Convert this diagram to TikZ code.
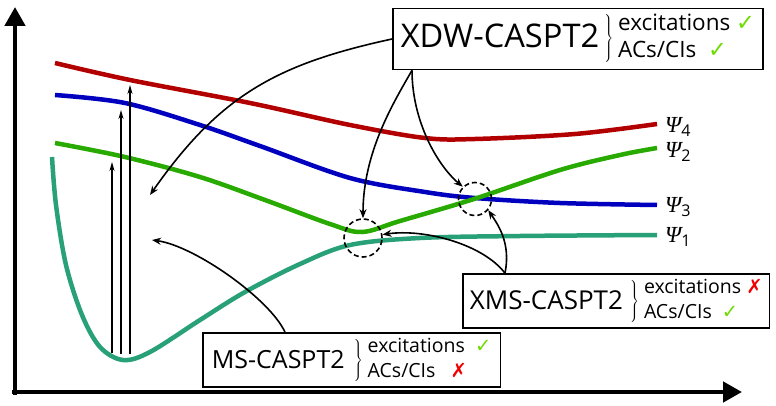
\documentclass[tikz,border=0pt]{standalone}
\usepackage{fontspec}
\setmainfont{Open Sans}
\newfontfamily\symf{DejaVu Sans}
\newfontfamily\psif{Liberation Serif}
\usetikzlibrary{arrows.meta}
\definecolor{cRed}{RGB}{178,0,0}
\definecolor{cBlue}{RGB}{0,0,190}
\definecolor{cGreen}{RGB}{40,170,0}
\definecolor{cTeal}{RGB}{40,160,120}
\definecolor{cCheck}{RGB}{110,220,0}
\definecolor{cCross}{RGB}{240,0,0}
\newcommand{\chk}{{\symf\color{cCheck}✓}}
\newcommand{\crs}{{\symf\color{cCross}✗}}
\newcommand{\bracepart}[1]{$\left.\rule[-#1]{0pt}{2.0\dimexpr#1\relax}\right\}$}
\begin{document}
\begin{tikzpicture}[x=1pt,y=-1pt,
  curve/.style={line width=4.5pt},
  axisline/.style={line width=4.5pt,-{Triangle[length=19pt,width=20pt]}},
  exc/.style={line width=1.3pt,-{Stealth[length=9pt,width=5pt]}},
  conn/.style={line width=1.6pt,-{Stealth[length=9pt,width=7pt]}},
  crossing/.style={circle,draw,line width=1.6pt,dash pattern=on 5pt off 3pt,inner sep=0pt},
  methodbox/.style={draw,line width=1.6pt,fill=white,inner xsep=8pt,inner ysep=2pt,anchor=west},
  lbl/.style={anchor=west,inner sep=1pt,font=\fontsize{23}{26}\selectfont}
]
\useasboundingbox (0,0) rectangle (776,406);
\fill[white] (0,0) rectangle (776,406);
% axes
\coordinate (origin) at (15,395);
\coordinate (ytip) at (15,7);
\coordinate (xorigin) at (12,392);
\coordinate (xtip) at (742,392);
\draw[axisline] (origin) -- (ytip);
\draw[axisline] (xorigin) -- (xtip);
% curves
\draw[curve,cRed] plot[smooth,tension=0.55] coordinates {(55,63) (130,80) (250,103) (350,125) (425,138) (475,139) (575,134) (657,124)};
\draw[curve,cBlue] plot[smooth,tension=0.55] coordinates {(55,95) (125,103) (200,125) (260,146) (350,178) (425,192) (475,198) (560,203) (657,205)};
\draw[curve,cGreen] plot[smooth,tension=0.55] coordinates {(55,143) (125,157) (200,177) (265,200) (330,224) (362,232) (400,221) (474,199) (560,170) (620,155) (657,148)};
\draw[curve,cTeal] plot[smooth,tension=0.55] coordinates {(52,157) (56,205) (66,265) (82,315) (100,347) (123,360) (150,352) (200,320) (245,292) (300,264) (350,245) (420,238) (520,236) (657,235)};
% labels
\node[lbl] (l4) at (664,127) {{\psif\itshape Ψ}\textsubscript{4}};
\node[lbl] (l2) at (664,152) {{\psif\itshape Ψ}\textsubscript{2}};
\node[lbl] (l3) at (664,207) {{\psif\itshape Ψ}\textsubscript{3}};
\node[lbl] (l1) at (664,237) {{\psif\itshape Ψ}\textsubscript{1}};
% excitation arrows
\coordinate (e1b) at (112,353); \coordinate (e1t) at (112,162);
\coordinate (e2b) at (121,354); \coordinate (e2t) at (121,110);
\coordinate (e3b) at (130,354); \coordinate (e3t) at (130,85);
\draw[exc] (e1b) -- (e1t);
\draw[exc] (e2b) -- (e2t);
\draw[exc] (e3b) -- (e3t);
% crossing circles
\node[crossing,minimum size=38pt] (c1) at (363,238) {};
\node[crossing,minimum size=33pt] (c2) at (475,199) {};
% boxes
\node[methodbox,inner ysep=3.5pt,font=\fontsize{22.5}{27}\selectfont] (xdw) at (392,39)
  {\raisebox{-3.5pt}{\fontsize{32.6}{38}\selectfont XDW-CASPT2}\hspace{4pt}\bracepart{21pt}\hspace{5pt}\begin{tabular}{@{}l@{}}excitations \chk\\ACs/CIs\ \ \chk\end{tabular}};
\node[methodbox,inner xsep=7pt,font=\fontsize{19.5}{25}\selectfont] (xms) at (462,301)
  {\raisebox{-3pt}{\fontsize{26}{30}\selectfont XMS-CASPT2}\hspace{6pt}\bracepart{17.5pt}\hspace{5pt}\begin{tabular}{@{}l@{}}excitations \crs\\ACs/CIs\ \ \chk\end{tabular}};
\node[methodbox,inner xsep=9pt,font=\fontsize{19.5}{25}\selectfont] (ms) at (202,360)
  {\raisebox{-3pt}{\fontsize{25}{30}\selectfont MS-CASPT2}\hspace{8pt}\bracepart{18pt}\hspace{5pt}\begin{tabular}{@{}l@{}}excitations\ \ \chk\\ACs/CIs\ \ \ \crs\end{tabular}};
% free ends
\coordinate (p1) at (150,195);
\coordinate (p2) at (152,240);
% connectors
\draw[conn] (xdw.west) .. controls +(-115,25) and +(70,-100) .. (p1);
\draw[conn] ([xshift=20pt]xdw.south west) .. controls +(-17,30) and +(0,-67) .. (c1.north);
\draw[conn] ([xshift=20pt]xdw.south west) .. controls +(0,50) and +(-26,-22) .. (c2.135);
\draw[conn] ([xshift=43pt]xms.north west) .. controls +(6,-30) and +(10,15) .. (c2.-40);
\draw[conn] ([xshift=43pt]xms.north west) .. controls +(-22,-29) and +(42,-6) .. (c1.10);
\draw[conn] ([xshift=83pt]ms.north west) .. controls +(-15,-33) and +(43,6) .. (p2);
\end{tikzpicture}
\end{document}
